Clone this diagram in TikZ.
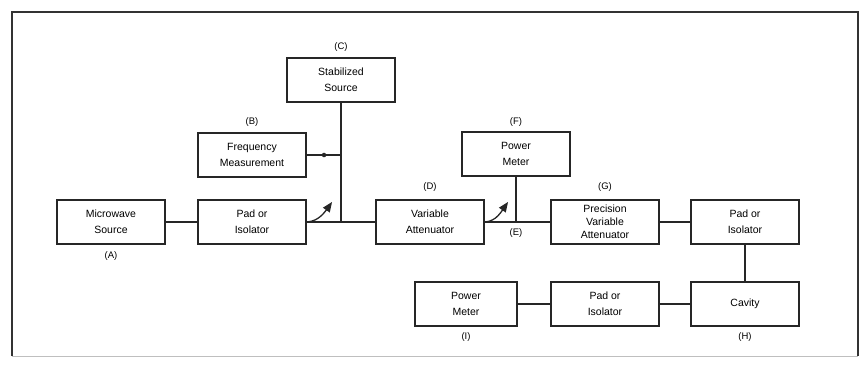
\documentclass[tikz,border=0pt]{standalone}
\usepackage{fontspec}
\setmainfont{Liberation Sans}
\usetikzlibrary{arrows}
\tikzstyle{block} = [draw=black!85,line width=2pt,minimum width=108pt,minimum height=44pt,align=center,inner sep=1pt,font=\fontsize{10.5}{16}\selectfont]
\tikzstyle{tag} = [font=\fontsize{9.5}{10}\selectfont]
\tikzstyle{wire} = [black!85,line width=2pt]
\tikzstyle{arrow} = [black!85,line width=1.3pt,-triangle 45]

\begin{document}
\begin{tikzpicture}[x=1pt,y=-1pt]
  \useasboundingbox (0,0) rectangle (861,364);
  % outer frame
  \draw[black!80,line width=2pt] (12,356) -- (12,12) -- (858,12) -- (858,356);
  \draw[black!25,line width=1pt] (12,356) -- (858,356);

  % main chain
  \node[block] (A) at (111,222) {Microwave\\Source};
  \node[block] (P1) at (252,222) {Pad or\\Isolator};
  \node[block] (C) at (341,80) {Stabilized\\Source};
  \node[block] (B) at (252,155) {Frequency\\Measurement};
  \node[block] (D) at (430,222) {Variable\\Attenuator};
  \node[block] (F) at (516,154) {Power\\Meter};
  \node[block,font=\fontsize{10.5}{13}\selectfont] (G) at (605,222) {Precision\\Variable\\Attenuator};
  \node[block] (P2) at (745,222) {Pad or\\Isolator};
  \node[block] (H) at (745,304) {Cavity};
  \node[block] (P3) at (605,304) {Pad or\\Isolator};
  \node[block,minimum width=102pt] (I) at (466,304) {Power\\Meter};

  % letters
  \node[tag] at (111,256) {(A)};
  \node[tag] at (252,122) {(B)};
  \node[tag] at (341,47) {(C)};
  \node[tag] at (430,187) {(D)};
  \node[tag] at (516,233) {(E)};
  \node[tag] at (516,122) {(F)};
  \node[tag] at (605,187) {(G)};
  \node[tag] at (745,337) {(H)};
  \node[tag] at (466,337) {(I)};

  % junctions and coupler tips
  \coordinate (J1) at (341,222);
  \coordinate (J2) at (516,222);
  \coordinate (K1) at (332,202);
  \coordinate (K2) at (508,202);

  \draw[wire] (A) -- (P1);
  \draw[wire] (P1) -- (D);
  \draw[wire] (C) -- (J1);
  \draw[wire] (B.east) -- node[circle,fill=black!85,inner sep=1.6pt] {} (B.east -| J1);
  \draw[wire] (D) -- (G);
  \draw[wire] (F) -- (J2);
  \draw[wire] (G) -- (P2);
  \draw[wire] (P2) -- (H);
  \draw[wire] (H) -- (P3);
  \draw[wire] (P3) -- (I);

  \draw[arrow] (P1.east) to[out=5,in=235] (K1);
  \draw[arrow] (D.east) to[out=5,in=235] (K2);
\end{tikzpicture}
\end{document}
